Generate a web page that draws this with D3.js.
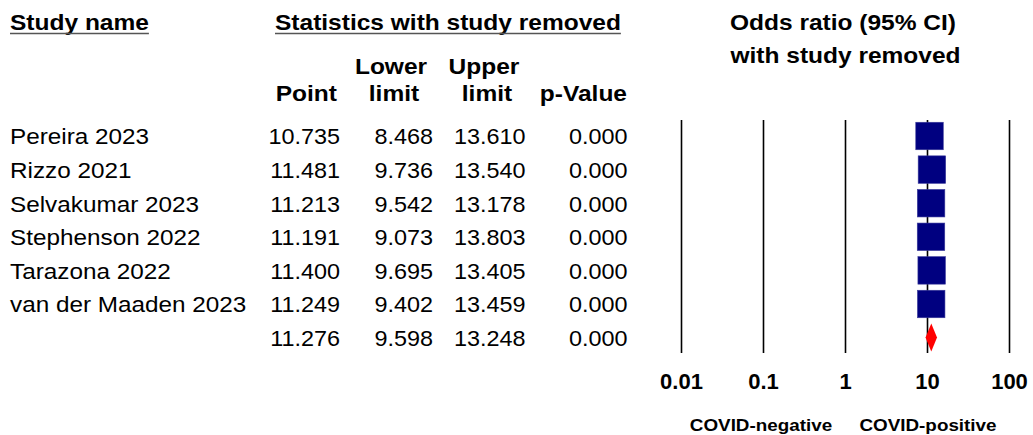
<!DOCTYPE html>
<html>
<head>
<meta charset="utf-8">
<script src="https://cdn.jsdelivr.net/npm/d3@7"></script>
<style>
  html, body { margin: 0; padding: 0; background: #fff; }
  svg { display: block; }
  text { font-family: "Liberation Sans", Arial, sans-serif; fill: #000; }
</style>
</head>
<body>
<svg id="chart" width="1033" height="435"></svg>
<script>
// Leave-one-out sensitivity analysis: odds ratios with each study removed
const studies   = ["Pereira 2023", "Rizzo 2021", "Selvakumar 2023", "Stephenson 2022", "Tarazona 2022", "van der Maaden 2023"];
const pointEst  = [10.735, 11.481, 11.213, 11.191, 11.400, 11.249];
const lowerCI   = [8.468, 9.736, 9.542, 9.073, 9.695, 9.402];
const upperCI   = [13.610, 13.540, 13.178, 13.803, 13.405, 13.459];
const pValues   = [0.000, 0.000, 0.000, 0.000, 0.000, 0.000];

// Pooled estimate
const pooledPoint = 11.276;
const pooledLower = 9.598;
const pooledUpper = 13.248;
const pooledP     = 0.000;

// Axis
const tickValues = [0.01, 0.1, 1, 10, 100];
const tickLabels = ["0.01", "0.1", "1", "10", "100"];
const favourLabels = ["COVID-negative", "COVID-positive"];

const SX = 1.08;              // horizontal text stretch
const fmt = d3.format(".3f");
const svg = d3.select("#chart");

const x = d3.scaleLog().domain([0.01, 100]).range([681, 1009]);
const y = d3.scaleLinear().domain([0, studies.length]).range([136, 337.6]);
const plotTop = 120, plotBottom = 353;

function put(str, px, py, opts = {}) {
  return svg.append("text")
    .attr("transform", `translate(${px},${py}) scale(${opts.sx ?? SX},1)`)
    .attr("text-anchor", opts.anchor || "start")
    .style("font-size", (opts.size || 22.5) + "px")
    .style("font-weight", opts.bold ? "bold" : "normal")
    .text(str);
}

function underline(t, uy) {
  const r = t.node().getBoundingClientRect();
  svg.append("line")
    .attr("x1", r.left).attr("x2", r.right)
    .attr("y1", uy).attr("y2", uy)
    .attr("stroke", "#555").attr("stroke-width", 1.6);
}

// Header row
const hdr = { bold: true, size: 22.5, sx: 1.09 };
underline(put("Study name", 10, 30, hdr), 33.5);
underline(put("Statistics with study removed", 275, 30, hdr), 33.5);
put("Odds ratio (95% CI)", 843, 30, { ...hdr, anchor: "middle" });
put("with study removed", 845.5, 63, { ...hdr, anchor: "middle" });

put("Point", 337, 101, { ...hdr, anchor: "end" });
put("Lower", 391, 74, { ...hdr, anchor: "middle" });
put("limit", 394, 101, { ...hdr, anchor: "middle" });
put("Upper", 484, 74, { ...hdr, anchor: "middle" });
put("limit", 487, 101, { ...hdr, anchor: "middle" });
put("p-Value", 627, 101, { ...hdr, anchor: "end" });

// Table body
const colRight = { point: 340, lower: 433, upper: 525.5, p: 627.5 };
const num = { anchor: "end", sx: 1.04 };
const rows = studies.map((s, i) => ({
  name: s, point: pointEst[i], lower: lowerCI[i], upper: upperCI[i], p: pValues[i]
}));
rows.push({ name: "", point: pooledPoint, lower: pooledLower, upper: pooledUpper, p: pooledP, pooled: true });

rows.forEach((r, i) => {
  const by = y(i) + 8.3;
  if (r.name) put(r.name, 10, by);
  put(fmt(r.point), colRight.point, by, num);
  put(fmt(r.lower), colRight.lower, by, num);
  put(fmt(r.upper), colRight.upper, by, num);
  put(fmt(r.p), colRight.p, by, num);
});

// Reference lines and tick labels
const axis = d3.axisBottom(x)
  .tickValues(tickValues)
  .tickFormat((d, i) => tickLabels[i])
  .tickSize(-(plotBottom - plotTop))
  .tickPadding(20.4);
const gAxis = svg.append("g").attr("transform", `translate(0,${plotBottom})`).call(axis);
gAxis.select(".domain").remove();
gAxis.selectAll(".tick line").attr("stroke", "#000").attr("stroke-width", 1.6);
gAxis.selectAll(".tick text")
  .style("font-family", '"Liberation Sans", Arial, sans-serif')
  .style("font-size", "22px").style("font-weight", "bold").attr("fill", "#000");

// Confidence intervals and study boxes
const box = 27.5;
const marks = svg.append("g");
rows.filter(r => !r.pooled).forEach((r, i) => {
  marks.append("line")
    .attr("x1", x(r.lower)).attr("x2", x(r.upper))
    .attr("y1", y(i)).attr("y2", y(i))
    .attr("stroke", "#000").attr("stroke-width", 1.2);
  marks.append("rect")
    .attr("x", x(r.point) - box / 2).attr("y", y(i) - box / 2)
    .attr("width", box).attr("height", box)
    .attr("fill", "#000080").attr("stroke", "#3b3b9a").attr("stroke-width", 0.6);
});

// Pooled diamond
const py = y(studies.length), dh = 14;
marks.append("path")
  .attr("d", `M${x(pooledLower)},${py} L${x(pooledPoint)},${py - dh} L${x(pooledUpper)},${py} L${x(pooledPoint)},${py + dh} Z`)
  .attr("fill", "#ff0000");

// Favours labels
put(favourLabels[0], 761, 430.5, { bold: true, size: 17.3, anchor: "middle", sx: 1.09 });
put(favourLabels[1], 928, 430.5, { bold: true, size: 17.3, anchor: "middle", sx: 1.09 });
</script>
</body>
</html>
